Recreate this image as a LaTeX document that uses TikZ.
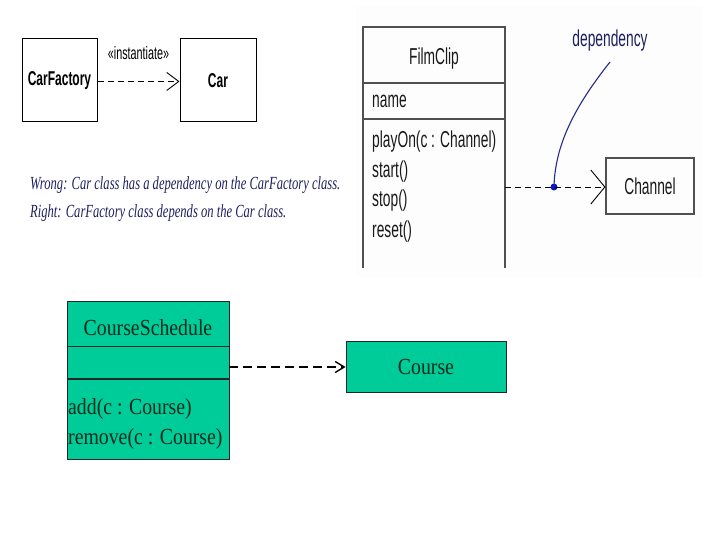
\documentclass[tikz,border=0pt]{standalone}
\usepackage{fontspec}
\setmainfont{Liberation Serif}
\newfontfamily\umlsans{Liberation Sans}[FakeStretch=0.6]
\newfontfamily\umlserif{Liberation Serif}[FakeStretch=0.86]
\newfontfamily\notefont{Liberation Serif}[FakeStretch=0.68]
\usetikzlibrary{arrows.meta}
\definecolor{tealfill}{HTML}{00CC99}
\definecolor{darkgreen}{HTML}{0B2A1C}
\definecolor{navy}{HTML}{1C1F5E}
\definecolor{depblue}{HTML}{2A2A8C}
\definecolor{dotblue}{HTML}{0A14C8}
\definecolor{umlgray}{HTML}{505050}
\tikzset{
  plainbox/.style={draw=black, line width=1pt, inner sep=0pt},
  tealbox/.style={draw=black!85, fill=tealfill, line width=0.9pt, inner sep=0pt},
  sanslbl/.style={font=\umlsans\fontsize{23}{26}\selectfont, text=black!90, inner sep=0pt},
  boldlbl/.style={font=\umlsans\bfseries\fontsize{20}{23}\selectfont, inner sep=0pt},
  seriflbl/.style={font=\umlserif\fontsize{23}{26}\selectfont, text=darkgreen, inner sep=0pt},
  notelbl/.style={font=\notefont\itshape\fontsize{18.5}{21}\selectfont, text=navy, inner sep=0pt, anchor=base west},
  depline/.style={dashed, dash pattern=on 6pt off 4pt, line width=0.9pt},
}
\begin{document}
\begin{tikzpicture}[x=1pt,y=-1pt]
\useasboundingbox (0,0) rectangle (720,540);
\fill[black!0.8] (356,6) rectangle (702,278);

% --- CarFactory / Car ---
\node[plainbox, minimum width=75, minimum height=83, boldlbl] (cf) at (59.5,80.5) {CarFactory};
\node[plainbox, minimum width=76, minimum height=83, boldlbl] (car) at (218,80.5) {Car};
\draw[depline, -{Straight Barb[length=12pt,width=18pt,line width=0.9pt]}] (cf.east |- 0,81.5) -- (car.west |- 0,81.5)
  node[midway, above=21pt, font=\umlsans\fontsize{18}{20}\selectfont, inner sep=0pt] (inst) {«instantiate»};

\node[notelbl] (n1) at (30,190) {Wrong: Car class has a dependency on the CarFactory class.};
\node[notelbl] (n2) at (30,218) {Right: CarFactory class depends on the Car class.};

% --- FilmClip ---
\draw[umlgray, line width=1.1pt] (363,268) -- (363,27) -- (505,27) -- (505,268);
\draw[umlgray, line width=2.2pt] (362,27) -- (506,27);
\draw[umlgray, line width=2pt] (363,83) -- (505,83);
\draw[umlgray, line width=1.5pt] (363,119) -- (505,119);
\node[sanslbl, anchor=base] (fc) at (434,65) {FilmClip};
\node[sanslbl, anchor=base west] (nm) at (372,108) {name};
\node[sanslbl, anchor=base west] (m1) at (372,148) {playOn(c : Channel)};
\node[sanslbl, anchor=base west] (m2) at (372,178) {start()};
\node[sanslbl, anchor=base west] (m3) at (372,207) {stop()};
\node[sanslbl, anchor=base west] (m4) at (372,237) {reset()};
\coordinate (fcr) at (505,187);

\node[plainbox, line width=1.2pt, draw=umlgray, minimum width=88, minimum height=56, sanslbl] (chan) at (650,186) {Channel};
\node[circle, fill=dotblue, inner sep=0pt, minimum size=7pt] (dot) at (554,187) {};
\draw[depline, -{Straight Barb[length=14pt,width=34pt,line width=0.9pt]}] (fcr) -- (chan.west |- fcr);
\node[sanslbl, text=navy, anchor=base] (dep) at (610,47) {dependency};
\coordinate (depend) at (610,62);
\draw[depblue, line width=1.1pt] (depend) .. controls (580,100) and (555,140) .. (dot.center);

% --- CourseSchedule / Course ---
\node[tealbox, minimum width=162, minimum height=158] (cs) at (148,380) {};
\draw[black!85, line width=0.9pt] (67,346) -- (229,346);
\draw[black!85, line width=1.3pt] (67,379) -- (229,379);
\node[seriflbl, anchor=base] (cst) at (148,335) {CourseSchedule};
\node[seriflbl, anchor=base west] (a1) at (68,414) {add(c : Course)};
\node[seriflbl, anchor=base west] (a2) at (68,444) {remove(c : Course)};
\node[tealbox, minimum width=160, minimum height=51, seriflbl] (course) at (426,366.5) {Course};
\draw[dashed, dash pattern=on 9pt off 5pt, line width=1.4pt, -{Straight Barb[length=9pt,width=11pt,line width=1.4pt]}]
  (cs.east |- 0,367) -- (course.west |- 0,367);
\end{tikzpicture}
\end{document}
